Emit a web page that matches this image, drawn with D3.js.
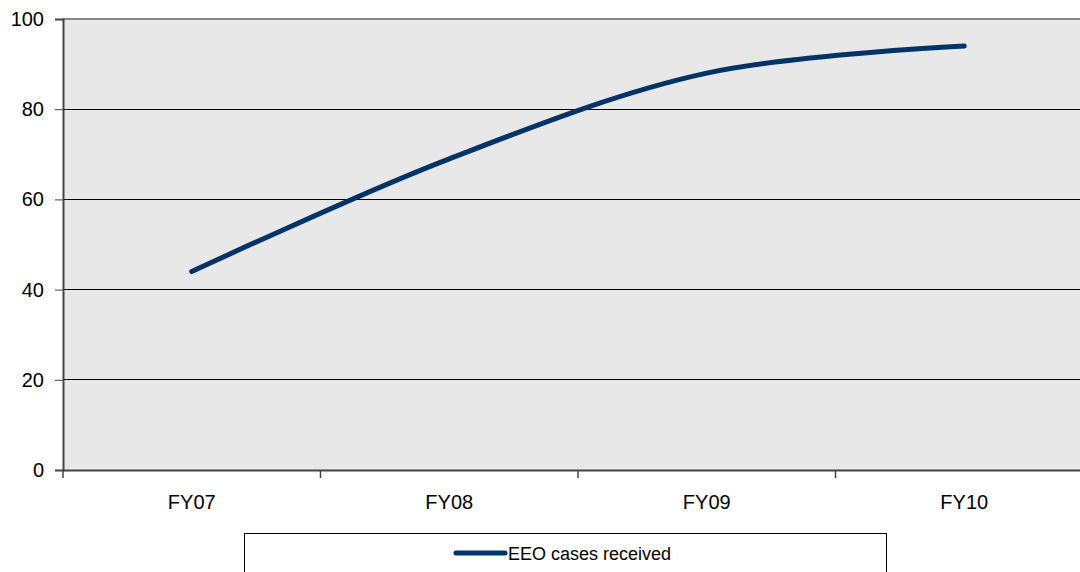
<!DOCTYPE html>
<html><head><meta charset="utf-8">
<script src="https://cdn.jsdelivr.net/npm/d3@7"></script>
<style>body{margin:0;background:#fff}svg{display:block}</style>
</head><body>
<svg id="c" width="1080" height="572"></svg>
<script>
const categories = ["FY07", "FY08", "FY09", "FY10"];
const eeoCases = [44, 69, 88, 94];
const yTicks = [0, 20, 40, 60, 80, 100];
const seriesName = "EEO cases received";

const svg = d3.select("#c");
const L = 63, T = 19, B = 470, R = 1093;
const font = "'Liberation Sans', Arial, sans-serif";

const x = d3.scaleBand().domain(categories).range([L, R]);
const y = d3.scaleLinear().domain([0, 100]).range([B, T]);

svg.append("rect").attr("x", L).attr("y", T).attr("width", R - L).attr("height", B - T).attr("fill", "#e8e8e8");

// gridlines
svg.append("g").selectAll("line").data(yTicks.filter(d => d > 0 && d < 100)).join("line")
  .attr("x1", L).attr("x2", R).attr("y1", d => y(d)).attr("y2", d => y(d))
  .attr("stroke", "#000").attr("stroke-width", 1).attr("shape-rendering", "crispEdges");
// top border
svg.append("line").attr("x1", L).attr("x2", R).attr("y1", T).attr("y2", T)
  .attr("stroke", "#888").attr("stroke-width", 2);

// y axis
const yAxis = d3.axisLeft(y).tickValues(yTicks).tickSize(8).tickPadding(11);
const gy = svg.append("g").attr("transform", `translate(${L},0)`).call(yAxis);
gy.select(".domain").attr("stroke", "#444").attr("stroke-width", 2);
gy.selectAll(".tick line").attr("stroke", "#444");
gy.selectAll("text").attr("font-family", font).attr("font-size", 20).attr("fill", "#000");

// x axis
const xAxis = d3.axisBottom(x).tickSize(0).tickPadding(25);
const gx = svg.append("g").attr("transform", `translate(0,${B})`).call(xAxis);
gx.select(".domain").attr("stroke", "#444").attr("stroke-width", 2);
gx.selectAll("text").attr("font-family", font).attr("font-size", 20).attr("fill", "#000");
// category boundary ticks
const bounds = categories.map(c => x(c)).concat([R]);
svg.append("g").selectAll("line").data(bounds).join("line")
  .attr("x1", d => d).attr("x2", d => d).attr("y1", B).attr("y2", B + 8)
  .attr("stroke", "#444").attr("stroke-width", 1.5);

// line
const line = d3.line()
  .x((d, i) => x(categories[i]) + x.bandwidth() / 2)
  .y(d => y(d))
  .curve(d3.curveCatmullRom.alpha(0.5));
svg.append("path").datum(eeoCases).attr("d", line)
  .attr("fill", "none").attr("stroke", "#003366").attr("stroke-width", 5).attr("stroke-linecap", "round");

// legend
svg.append("rect").attr("x", 244.5).attr("y", 533.5).attr("width", 642).attr("height", 60)
  .attr("fill", "#fff").attr("stroke", "#000").attr("stroke-width", 1);
svg.append("line").attr("x1", 456).attr("x2", 505).attr("y1", 553).attr("y2", 553)
  .attr("stroke", "#003366").attr("stroke-width", 5).attr("stroke-linecap", "round");
svg.append("text").attr("x", 508).attr("y", 560).text(seriesName)
  .attr("font-family", font).attr("font-size", 18).attr("fill", "#000");
</script>
</body></html>
